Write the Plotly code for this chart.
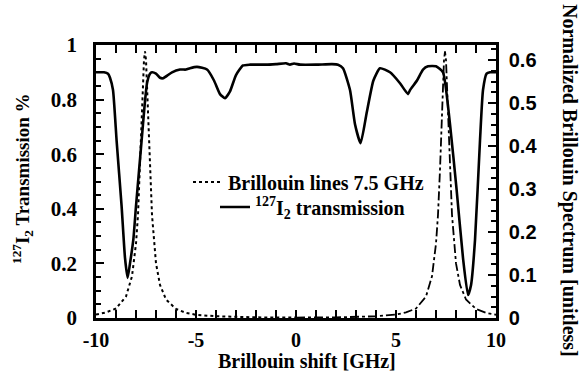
import plotly.graph_objects as go

# Transmission of 127I2 cell (left axis)
trans_x = [-10, -9.6, -9.4, -9.3, -9.15, -8.97, -8.72, -8.55, -8.42, -8.3, -8.13, -8.0, -7.72, -7.58,
           -7.45, -7.3, -7.2, -7.0, -6.8, -6.65, -6.4, -6.2, -5.8, -5.5, -5.3, -4.95, -4.45, -4.1,
           -3.8, -3.55, -3.3, -3.0, -2.65, -2.3, -1.5, -1.0, -0.5, -0.3, -0.1, 0.2, 1.0, 1.8, 2.1,
           2.35, 2.7, 2.95, 3.23, 3.53, 3.87, 4.2, 4.7, 5.2, 5.6, 5.7, 6.05, 6.35, 6.6, 7.0, 7.35,
           7.7, 8.03, 8.35, 8.6, 8.75, 8.95, 9.2, 9.35, 9.53, 9.7, 10]
trans_y = [0.90, 0.90, 0.895, 0.88, 0.835, 0.65, 0.41, 0.22, 0.147, 0.20, 0.29, 0.41, 0.65, 0.77,
           0.86, 0.895, 0.90, 0.895, 0.88, 0.878, 0.89, 0.90, 0.91, 0.91, 0.915, 0.92, 0.91, 0.87,
           0.82, 0.805, 0.83, 0.89, 0.925, 0.928, 0.928, 0.93, 0.933, 0.928, 0.932, 0.928, 0.928,
           0.93, 0.928, 0.915, 0.835, 0.71, 0.64, 0.75, 0.87, 0.915, 0.90, 0.86, 0.82, 0.835, 0.87,
           0.91, 0.922, 0.922, 0.90, 0.71, 0.47, 0.22, 0.084, 0.12, 0.285, 0.65, 0.835, 0.895, 0.90,
           0.90]

# Brillouin line at -7.5 GHz (right axis)
bl_left_x = [-10, -9.5, -9.0, -8.5, -8.2, -8.0, -7.9, -7.8, -7.7, -7.6, -7.55, -7.5, -7.4, -7.3,
             -7.2, -7.0, -6.8, -6.5, -6.0, -5.5, -5.0, -4.0, -2.0, 0.0]
bl_left_y = [0.008, 0.013, 0.022, 0.05, 0.097, 0.173, 0.24, 0.345, 0.48, 0.60, 0.62, 0.60, 0.48,
             0.345, 0.24, 0.127, 0.077, 0.043, 0.021, 0.012, 0.0075, 0.004, 0.0015, 0.001]

# Brillouin line at +7.5 GHz (right axis)
bl_right_x = [0.0, 2.0, 4.0, 5.0, 5.5, 6.0, 6.5, 6.8, 7.0, 7.1, 7.2, 7.3, 7.4, 7.45, 7.5, 7.6, 7.7,
              7.8, 8.0, 8.2, 8.5, 9.0, 9.5, 10.0]
bl_right_y = [0.001, 0.0015, 0.004, 0.008, 0.013, 0.022, 0.05, 0.097, 0.173, 0.24, 0.345, 0.48,
              0.60, 0.62, 0.60, 0.48, 0.345, 0.24, 0.127, 0.077, 0.043, 0.021, 0.012, 0.0075]

x_ticks = [-10, -5, 0, 5, 10]
x_ticklabels = ["-10", "-5", "0", "5", "10"]
y_ticks = [0, 0.2, 0.4, 0.6, 0.8, 1.0]
y_ticklabels = ["0", "0.2", "0.4", "0.6", "0.8", "1"]
y2_ticks = [0, 0.1, 0.2, 0.3, 0.4, 0.5, 0.6]
y2_ticklabels = ["0", "0.1", "0.2", "0.3", "0.4", "0.5", "0.6"]

SERIF = "Liberation Serif, Times New Roman, serif"
SANS = "Liberation Sans, Arial, sans-serif"

fig = go.Figure()
fig.add_trace(go.Scatter(x=bl_left_x, y=bl_left_y, yaxis="y2", mode="lines",
                         line=dict(color="black", width=2, dash="dot"),
                         name="Brillouin lines 7.5 GHz", legend="legend"))
fig.add_trace(go.Scatter(x=bl_right_x, y=bl_right_y, yaxis="y2", mode="lines",
                         line=dict(color="black", width=1.8, dash="dashdot"),
                         showlegend=False))
fig.add_trace(go.Scatter(x=trans_x, y=trans_y, mode="lines",
                         line=dict(color="black", width=2.6, shape="spline", smoothing=0.5),
                         name="<sup>127</sup>I<sub>2</sub> transmission", legend="legend2"))

axis_common = dict(showgrid=False, zeroline=False, showline=True, linecolor="black", linewidth=2.5,
                   ticks="inside", tickcolor="black", tickwidth=2)

fig.update_layout(
    width=580, height=378,
    margin=dict(l=96, r=84, t=45, b=60),
    paper_bgcolor="white", plot_bgcolor="white",
    xaxis=dict(range=[-10, 10], tickvals=x_ticks, ticktext=x_ticklabels, ticklen=8,
               mirror="allticks",
               minor=dict(dtick=1, ticks="inside", ticklen=4, tickcolor="black", tickwidth=1.5),
               tickfont=dict(family=SERIF, size=20, color="black", weight="bold"),
               ticklabelstandoff=2,
               **axis_common),
    yaxis=dict(range=[0, 1], tickvals=y_ticks, ticktext=y_ticklabels, ticklen=8,
               minor=dict(dtick=0.05, ticks="inside", ticklen=5, tickcolor="black", tickwidth=1.5),
               tickfont=dict(family=SERIF, size=21, color="black", weight="bold"),
               ticklabelstandoff=12,
               **axis_common),
    yaxis2=dict(range=[0, 0.635], overlaying="y", side="right", tickvals=y2_ticks,
                ticktext=y2_ticklabels, ticklen=8,
                minor=dict(dtick=0.025, ticks="inside", ticklen=5, tickcolor="black", tickwidth=1.5),
                tickfont=dict(family=SANS, size=20, color="black", weight="bold"),
                ticklabelstandoff=6,
                **axis_common),
    legend=dict(x=(188 - 96) / 400, y=(318 - 182) / 273, xanchor="left", yanchor="middle",
                bgcolor="rgba(0,0,0,0)", borderwidth=0,
                font=dict(family=SERIF, size=20, color="black", weight="bold")),
    legend2=dict(x=(215 - 96) / 400, y=(318 - 207) / 273, xanchor="left", yanchor="middle",
                 bgcolor="rgba(0,0,0,0)", borderwidth=0,
                 font=dict(family=SERIF, size=20, color="black", weight="bold")),
    annotations=[
        dict(text="Brillouin shift [GHz]", xref="paper", yref="paper",
             x=(307 - 96) / 400, y=(318 - 361) / 273, showarrow=False,
             xanchor="center", yanchor="middle",
             font=dict(family=SERIF, size=20, color="black", weight="bold")),
        dict(text="<sup>127</sup>I<sub>2</sub> Transmission %", xref="paper", yref="paper",
             x=(22 - 96) / 400, y=(318 - 179) / 273, showarrow=False, textangle=-90,
             xanchor="center", yanchor="middle",
             font=dict(family=SERIF, size=19, color="black", weight="bold")),
        dict(text="Normalized Brillouin Spectrum [unitless]", xref="paper", yref="paper",
             x=(570 - 96) / 400, y=(318 - 180) / 273, showarrow=False, textangle=90,
             xanchor="center", yanchor="middle",
             font=dict(family=SERIF, size=20, color="black", weight="bold")),
    ],
)

fig.write_html("out.html")
